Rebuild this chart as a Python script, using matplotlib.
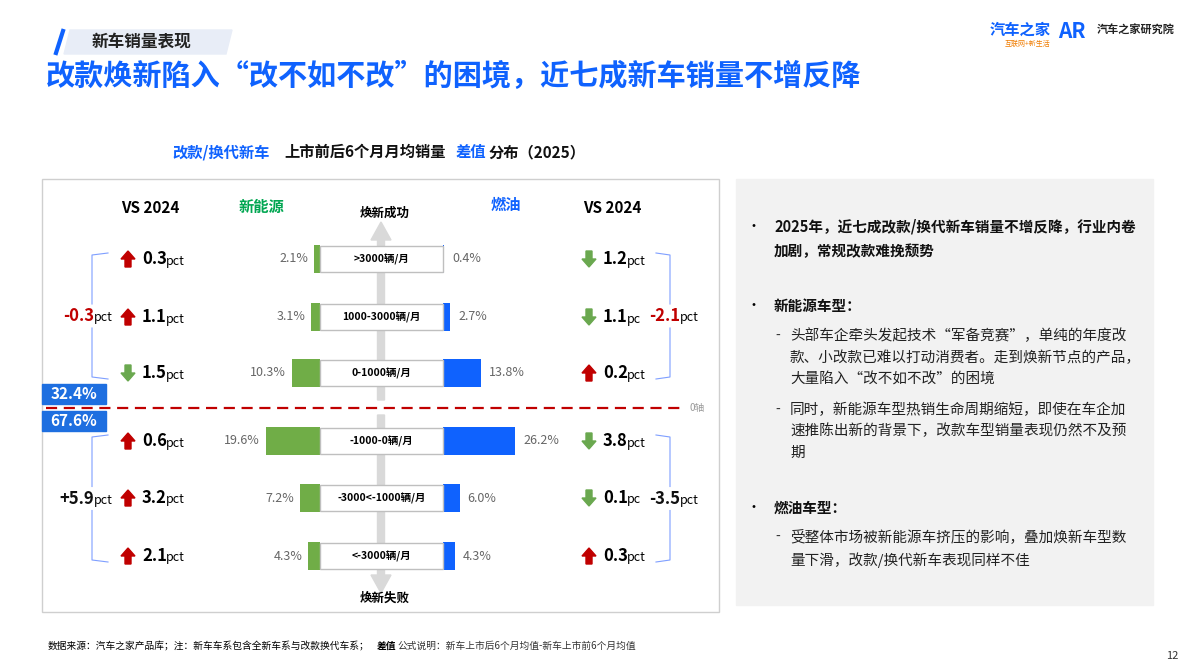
import numpy as np
import matplotlib.pyplot as plt
from matplotlib.patches import Rectangle, FancyArrow, Polygon

plt.rcParams['font.family'] = ['Noto Sans CJK SC', 'DejaVu Sans']

# 数据
bands = ['>3000辆/月', '1000-3000辆/月', '0-1000辆/月', '-1000-0辆/月', '-3000<-1000辆/月', '<-3000辆/月']
nev = [2.1, 3.1, 10.3, 19.6, 7.2, 4.3]
ice = [0.4, 2.7, 13.8, 26.2, 6.0, 4.3]
nev_vs = [0.3, 1.1, -1.5, 0.6, 3.2, 2.1]
ice_vs = [-1.2, -1.1, 0.2, -3.8, -0.1, 0.3]
nev_unit = ['pct'] * 6
ice_unit = ['pct', 'pc', 'pct', 'pct', 'pc', 'pct']
group_nev = ['-0.3', '+5.9']
group_ice = ['-2.1', '-3.5']
share = ['32.4%', '67.6%']

BLUE = '#0f62fe'
GREEN = '#70ad47'
RED = '#c00000'
DGREEN = '#6aa84f'

fig = plt.figure(figsize=(11.94, 6.69), dpi=100)
ax = fig.add_axes([0, 0, 1, 1])
ax.set_xlim(0, 1194)
ax.set_ylim(669, 0)
ax.axis('off')


def block_arrow(x, y, up, color):
    # 小方块箭头
    if up:
        ax.add_patch(FancyArrow(x, y + 8, 0, -16, width=6, head_width=14, head_length=8,
                                color=color, length_includes_head=True))
    else:
        ax.add_patch(FancyArrow(x, y - 8, 0, 16, width=6, head_width=14, head_length=8,
                                color=color, length_includes_head=True))


# 头部
ax.add_patch(Polygon([(70, 30), (232, 30), (226, 54), (64, 54)], color='#e8edf7', zorder=0))
ax.plot([63, 56], [31, 53], color=BLUE, lw=3)
ax.text(92, 42, '新车销量表现', fontsize=12, fontweight='bold', style='italic', va='center', color='#222')
ax.text(46, 76, '改款焕新陷入“改不如不改”的困境，近七成新车销量不增反降', fontsize=21,
        fontweight='bold', color=BLUE, va='center')
ax.text(990, 30, '汽车之家', fontsize=11, fontweight='bold', color=BLUE, va='center')
ax.text(1005, 44, '互联网+新生活', fontsize=5, color='#f07c00', va='center')
ax.text(1058, 32, 'AR', fontsize=15, fontweight='bold', color=BLUE, va='center')
ax.text(1097, 30, '汽车之家研究院', fontsize=8, fontweight='bold', color='#222', va='center')

# 子标题
ax.text(172, 152, '改款/换代新车', fontsize=11, fontweight='bold', color=BLUE, va='center')
ax.text(284, 152, '上市前后6个月月均销量', fontsize=11, fontweight='bold', color='#111', va='center')
ax.text(456, 152, '差值', fontsize=11, fontweight='bold', color=BLUE, va='center')
ax.text(489, 152, '分布（2025）', fontsize=11, fontweight='bold', color='#111', va='center')

# 左侧面板框
ax.add_patch(Rectangle((42, 179), 677, 433, fill=False, ec='#cfcfcf', lw=1))

ax.text(150, 208, 'VS 2024', fontsize=11, fontweight='bold', ha='center', va='center')
ax.text(261, 207, '新能源', fontsize=11, fontweight='bold', color='#00a651', ha='center', va='center')
ax.text(506, 205, '燃油', fontsize=11, fontweight='bold', color=BLUE, ha='center', va='center')
ax.text(612, 208, 'VS 2024', fontsize=11, fontweight='bold', ha='center', va='center')

# 中轴箭头
ax.add_patch(FancyArrow(381, 400, 0, -178, width=7, head_width=20, head_length=18,
                        color='#d9d9d9', length_includes_head=True, zorder=1))
ax.add_patch(FancyArrow(381, 415, 0, 178, width=7, head_width=20, head_length=18,
                        color='#d9d9d9', length_includes_head=True, zorder=1))
ax.text(385, 213, '焕新成功', fontsize=9, fontweight='bold', ha='center', va='center')
ax.text(385, 598, '焕新失败', fontsize=9, fontweight='bold', ha='center', va='center')

rows_y = [259, 317, 373, 441, 498, 556]
scale = 2.75
box_l, box_r = 320, 443
nev_w = [v * scale for v in nev]
ice_w = [v * scale for v in ice]
ax.barh(rows_y, nev_w, left=[box_l - w for w in nev_w], height=28, color=GREEN, zorder=3)
ax.barh(rows_y, ice_w, left=box_r, height=28, color=BLUE, zorder=3)
ax.barh(rows_y, box_r - box_l, left=box_l, height=26, color='white', ec='#bfbfbf', lw=1, zorder=3)

for i, y in enumerate(rows_y):
    ax.text((box_l + box_r) / 2, y, bands[i], fontsize=7.5, fontweight='bold', ha='center', va='center', zorder=4)
    ax.text(box_l - nev_w[i] - 6, y, f'{nev[i]}%', fontsize=9, color='#666', ha='right', va='center')
    ax.text(box_r + ice_w[i] + 8, y, f'{ice[i]}%', fontsize=9, color='#666', ha='left', va='center')
    up = nev_vs[i] > 0
    block_arrow(128, y, up, RED if up else DGREEN)
    ax.text(142, y, f'{abs(nev_vs[i])}', fontsize=12, fontweight='bold', ha='left', va='center')
    ax.text(166, y + 2, nev_unit[i], fontsize=9, ha='left', va='center')
    up = ice_vs[i] > 0
    block_arrow(589, y, up, RED if up else DGREEN)
    ax.text(603, y, f'{abs(ice_vs[i])}', fontsize=12, fontweight='bold', ha='left', va='center')
    ax.text(627, y + 2, ice_unit[i], fontsize=9, ha='left', va='center')

# 分组括号
for g, (top, bot) in enumerate([(rows_y[0], rows_y[2]), (rows_y[3], rows_y[5])]):
    mid = (top + bot) / 2
    ax.plot([108, 92, 92], [top - 6, top - 4, mid - 12], color='#7f9fff', lw=0.8)
    ax.plot([92, 92, 108], [mid + 12, bot + 4, bot + 6], color='#7f9fff', lw=0.8)
    ax.plot([656, 670, 670], [top - 6, top - 4, mid - 12], color='#7f9fff', lw=0.8)
    ax.plot([670, 670, 656], [mid + 12, bot + 4, bot + 6], color='#7f9fff', lw=0.8)
    c = RED if group_nev[g].startswith('-') else '#111'
    ax.text(94, mid, group_nev[g], fontsize=12, fontweight='bold', color=c, ha='right', va='center')
    ax.text(94, mid + 2, 'pct', fontsize=9, ha='left', va='center')
    c = RED if g == 0 else '#111'
    ax.text(680, mid, group_ice[g], fontsize=12, fontweight='bold', color=c, ha='right', va='center')
    ax.text(680, mid + 2, 'pct', fontsize=9, ha='left', va='center')

# 0轴
ax.plot([46, 685], [408, 408], color='#c00000', lw=1.6, ls=(0, (5, 3)))
ax.text(690, 408, '0轴', fontsize=7, color='#999', va='center')
for txt, y in zip(share, [394, 421]):
    ax.add_patch(Rectangle((42, y - 10), 64, 20, color='#1e6fe0', zorder=4))
    ax.text(74, y, txt, fontsize=11, fontweight='bold', color='white', ha='center', va='center', zorder=5)

# 右侧文本面板
ax.add_patch(Rectangle((736, 179), 417, 426, color='#f2f2f2', zorder=0))
para = [
    (227, '•', '2025年，近七成改款/换代新车销量不增反降，行业内卷', True),
    (251, '', '加剧，常规改款难挽颓势', True),
    (306, '•', '新能源车型：', True),
    (336, '-', '头部车企牵头发起技术“军备竞赛”，单纯的年度改', False),
    (358, '', '款、小改款已难以打动消费者。走到焕新节点的产品，', False),
    (380, '', '大量陷入“改不如不改”的困境', False),
    (410, '-', '同时，新能源车型热销生命周期缩短，即使在车企加', False),
    (431, '', '速推陈出新的背景下，改款车型销量表现仍然不及预', False),
    (453, '', '期', False),
    (508, '•', '燃油车型：', True),
    (537, '-', '受整体市场被新能源车挤压的影响，叠加焕新车型数', False),
    (560, '', '量下滑，改款/换代新车表现同样不佳', False),
]
for y, mark, txt, bold in para:
    if bold:
        if mark:
            ax.text(746, y, mark, fontsize=10, va='center')
        ax.text(774, y, txt, fontsize=10.5, fontweight='bold', va='center', color='#111')
    else:
        if mark:
            ax.text(775, y, mark, fontsize=10, va='center', color='#333')
        ax.text(790, y, txt, fontsize=10.5, va='center', color='#222')

ax.text(48, 646, '数据来源：汽车之家产品库；注：新车车系包含全新车系与改款换代车系；', fontsize=7, va='center')
ax.text(377, 646, '差值', fontsize=7, fontweight='bold', va='center')
ax.text(397, 646, '公式说明：新车上市后6个月均值-新车上市前6个月均值', fontsize=7, va='center', color='#333')
ax.text(1178, 656, '12', fontsize=8, ha='right', va='center', color='#333')

fig.savefig('out.png', dpi=100)
